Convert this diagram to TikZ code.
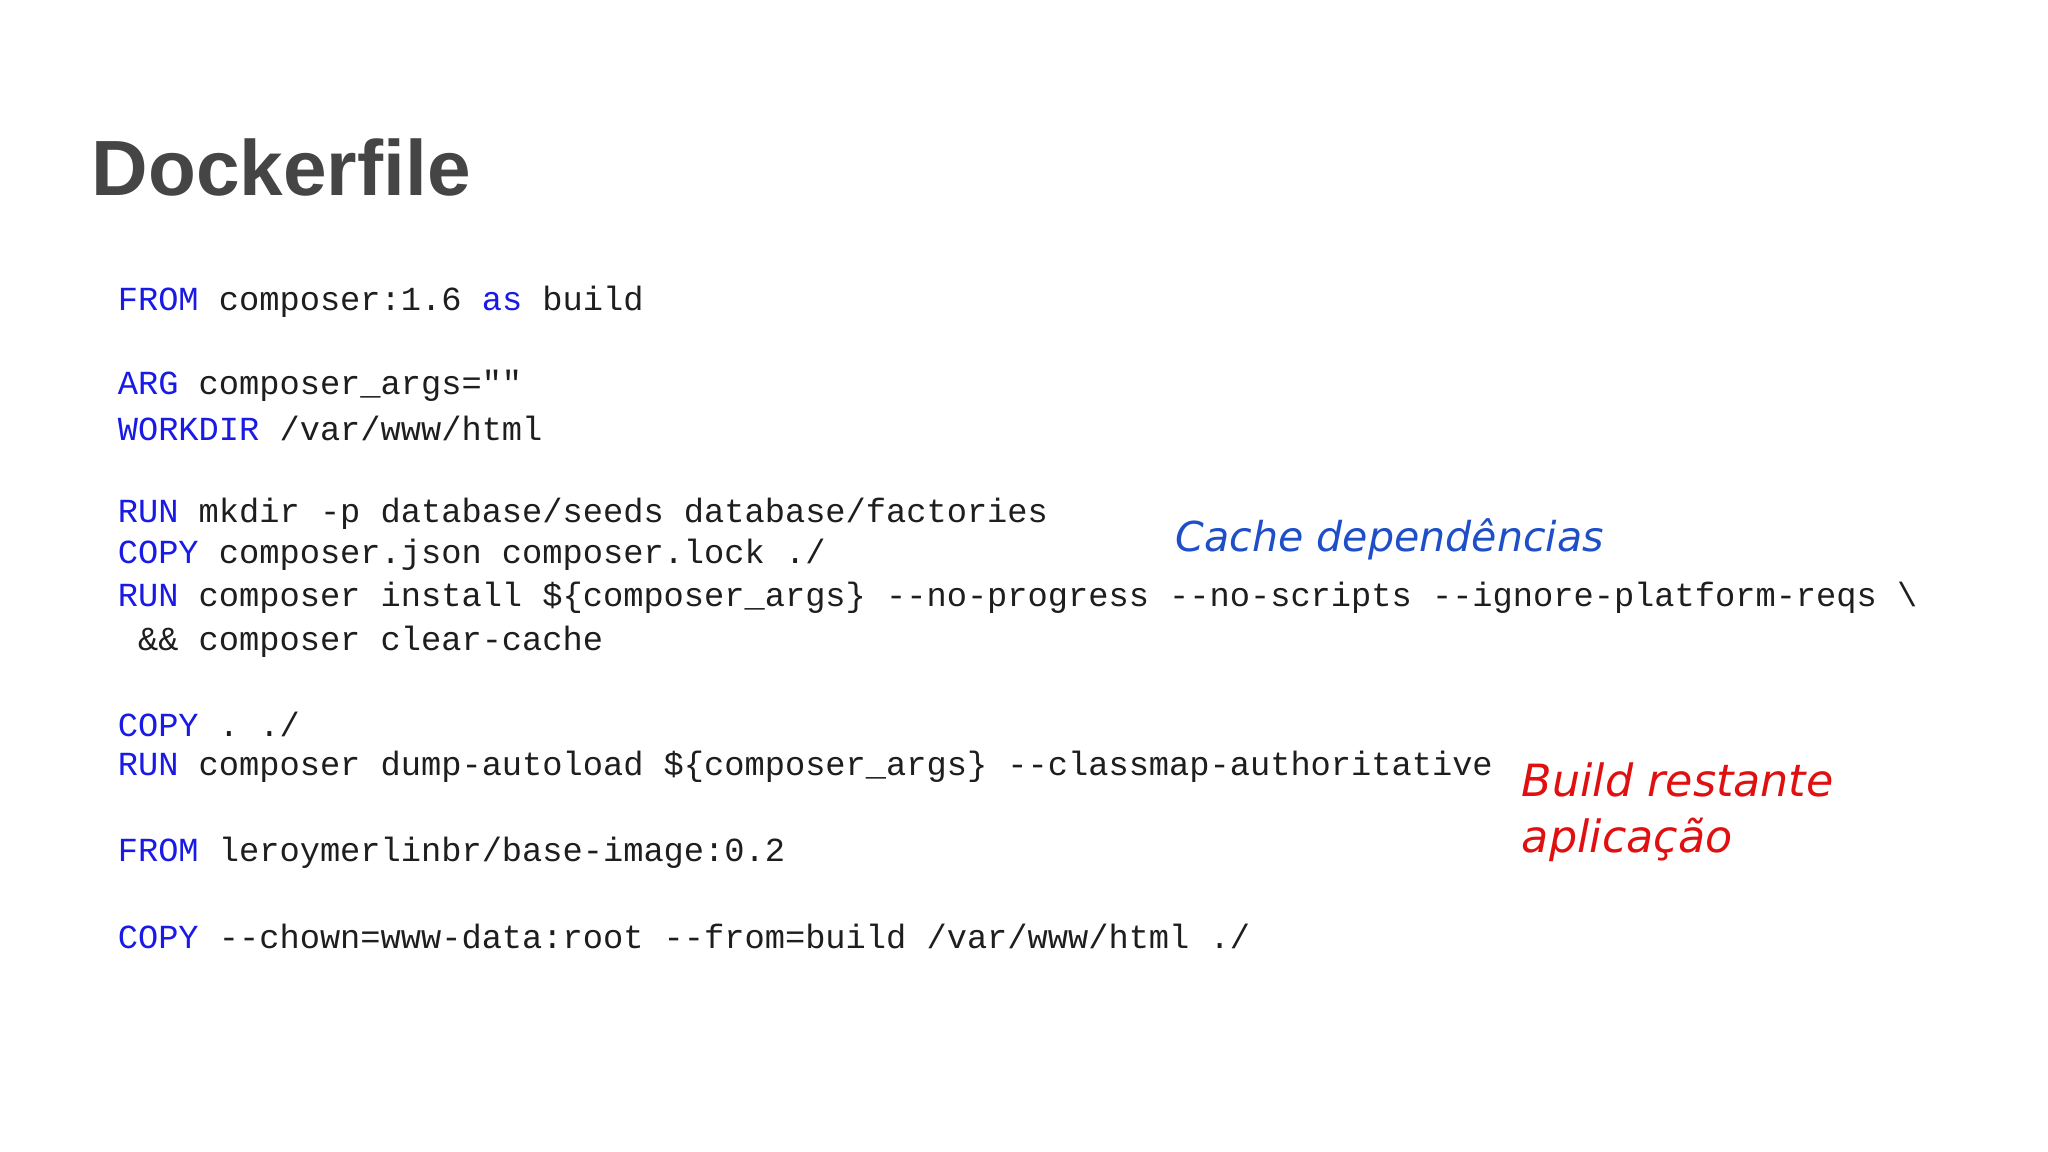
\documentclass[tikz,border=0pt]{standalone}
\usepackage{fontspec}
\setmainfont{Liberation Sans}
\newfontfamily\codefont{Liberation Mono}
\newfontfamily\handfont{DejaVu Sans}[ItalicFont={* Oblique}]
\definecolor{kw}{HTML}{1A1AE6}
\definecolor{txt}{HTML}{1E1E1E}
\definecolor{ttl}{HTML}{454545}
\definecolor{annb}{HTML}{1F4FC8}
\definecolor{annr}{HTML}{E01010}
\begin{document}
\begin{tikzpicture}[x=1pt,y=-1pt,
  code/.style={anchor=west,inner sep=0pt,font=\codefont\fontsize{25.8}{30}\selectfont,text=txt},
  ann/.style={anchor=west,inner sep=0pt,font=\handfont\itshape\fontsize{34}{40}\selectfont}]
\useasboundingbox[fill=white] (0,0) rectangle (1568,882);
\node[anchor=base west,inner sep=0pt,font=\bfseries\fontsize{60}{70}\selectfont,text=ttl] (title) at (70,150) {Dockerfile};
\newcommand\kwd[1]{\textcolor{kw}{#1}}
\node[code] (l1) at (90,231) {\kwd{FROM} composer:1.6 \kwd{as} build};
\node[code] (l2) at (90,295) {\kwd{ARG} composer\_args=""};
\node[code] (l3) at (90,328) {\kwd{WORKDIR} /var/www/html};
\node[code] (l4) at (90,393) {\kwd{RUN} mkdir -p database/seeds database/factories};
\node[code] (l5) at (90,425) {\kwd{COPY} composer.json composer.lock ./};
\node[code] (l6) at (90,458) {\kwd{RUN} composer install \$\{composer\_args\} --no-progress --no-scripts --ignore-platform-reqs \textbackslash};
\node[code] (l7) at (90,491) {\ \&\& composer clear-cache};
\node[code] (l8) at (90,555) {\kwd{COPY} . ./};
\node[code] (l9) at (90,587) {\kwd{RUN} composer dump-autoload \$\{composer\_args\} --classmap-authoritative};
\node[code] (l10) at (90,653) {\kwd{FROM} leroymerlinbr/base-image:0.2};
\node[code] (l11) at (90,717) {\kwd{COPY} --chown=www-data:root --from=build /var/www/html ./};
\node[ann,text=annb,font=\handfont\itshape\fontsize{31.5}{40}\selectfont] (a1) at (900,413) {Cache dependências};
\node[ann,text=annr] (a2) at (1165,597) {Build restante};
\node[ann,text=annr] (a3) at (1165,643) {aplicação};
\end{tikzpicture}
\end{document}
